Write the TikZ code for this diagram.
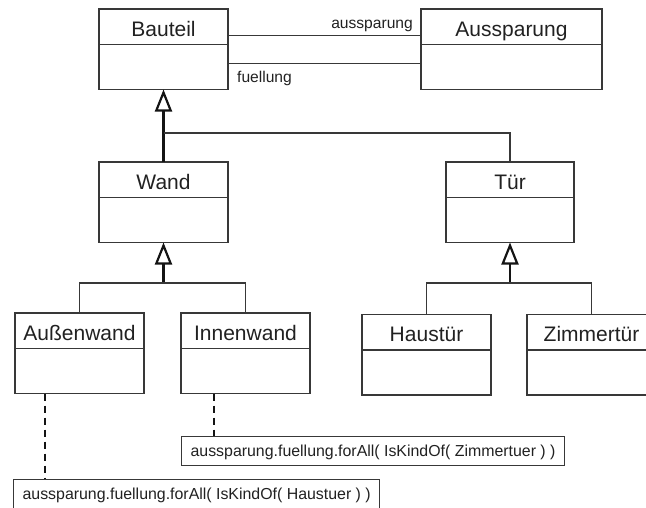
\documentclass[tikz,border=0pt]{standalone}
\usepackage{fontspec}
\setmainfont{Liberation Sans}
\usetikzlibrary{arrows.meta}
\definecolor{textgray}{gray}{0.13}
\definecolor{linegray}{gray}{0.22}
\definecolor{stemgray}{gray}{0.08}

% class box: name, left, top, width, title
\newcommand\umlclass[5]{%
  \node[classbox, minimum width=#4pt] (#1) at (#2,#3) {};
  \draw[classline] (#1.north west) ++(0,35.5) -- ++(#4,0);
  \node[classname] (#1-title) at (#2+#4/2,#3+27) {#5};
}

\begin{document}
\begin{tikzpicture}[x=1pt,y=-1pt,
  classbox/.style={draw=linegray, line width=1.2pt, minimum height=80.5pt,
    inner sep=0pt, outer sep=0pt, anchor=north west},
  classline/.style={draw=linegray, line width=1.2pt},
  classname/.style={font=\fontsize{21}{25}\selectfont, text=textgray,
    anchor=base, inner sep=0pt},
  rolelabel/.style={font=\fontsize{15.6}{18}\selectfont, text=textgray,
    inner sep=0pt},
  notebox/.style={draw=linegray, line width=1.2pt, anchor=north west,
    inner xsep=9pt, inner ysep=0pt, text height=20pt, text depth=9pt,
    font=\fontsize{15.9}{18}\selectfont, text=textgray},
  assoc/.style={draw=linegray, line width=1.2pt},
  genstem/.style={draw=stemgray, line width=2.2pt,
    -{Triangle[open, length=22pt, width=17pt]}},
  genbranch/.style={draw=linegray, line width=1.3pt},
  anchorline/.style={draw=stemgray, line width=2pt, dash pattern=on 7pt off 5pt}
]
\useasboundingbox (0,0) rectangle (646,507);
\clip (0,0) rectangle (646,507);

% classes
\umlclass{Bauteil}{99}{9}{129}{Bauteil}
\umlclass{Aussparung}{421}{9}{181}{Aussparung}
\umlclass{Wand}{99}{162}{129}{Wand}
\umlclass{Tuer}{446}{162}{128}{Tür}
\umlclass{Aussenwand}{15}{313}{129}{Außenwand}
\umlclass{Innenwand}{181}{313}{129}{Innenwand}
\umlclass{Haustuer}{362}{314.5}{129}{Haustür}
\umlclass{Zimmertuer}{527}{314.5}{129}{Zimmertür}

% associations between Bauteil and Aussparung
\draw[assoc] ([yshift=14pt]Bauteil.east) -- ([yshift=14pt]Aussparung.west);
\draw[assoc] ([yshift=-14pt]Bauteil.east) -- ([yshift=-14pt]Aussparung.west);
\node[rolelabel, anchor=base east] (role-aussparung) at (413,28) {aussparung};
\node[rolelabel, anchor=base west] (role-fuellung) at (237,82) {fuellung};

% generalization: Wand, Tuer -> Bauteil
\path (Bauteil.south) ++(0,43.5) coordinate (gen1);
\draw[genstem] (Wand.north) -- (Bauteil.south);
\draw[genbranch] (gen1) -| (Tuer.north);

% generalization: Aussenwand, Innenwand -> Wand
\path (Wand.south) ++(0,40.5) coordinate (gen2);
\draw[genstem] (gen2) -- (Wand.south);
\draw[genbranch] (Aussenwand.north) |- (gen2) -| (Innenwand.north);

% generalization: Haustuer, Zimmertuer -> Tuer
\path (Tuer.south) ++(0,40.5) coordinate (gen3);
\draw[genstem] (gen3) -- (Tuer.south);
\draw[genbranch] (Haustuer.north) |- (gen3) -| (Zimmertuer.north);

% constraint notes
\node[notebox] (note1) at (13,479) {aussparung.fuellung.forAll( IsKindOf( Haustuer ) )};
\node[notebox] (note2) at (181,436) {aussparung.fuellung.forAll( IsKindOf( Zimmertuer ) )};

\path ([xshift=-34.5pt]Aussenwand.south) coordinate (d1);
\path ([xshift=-31.5pt]Innenwand.south) coordinate (d2);
\draw[anchorline] (d1) -- (d1 |- note1.north);
\draw[anchorline] (d2) -- (d2 |- note2.north);
\end{tikzpicture}
\end{document}
